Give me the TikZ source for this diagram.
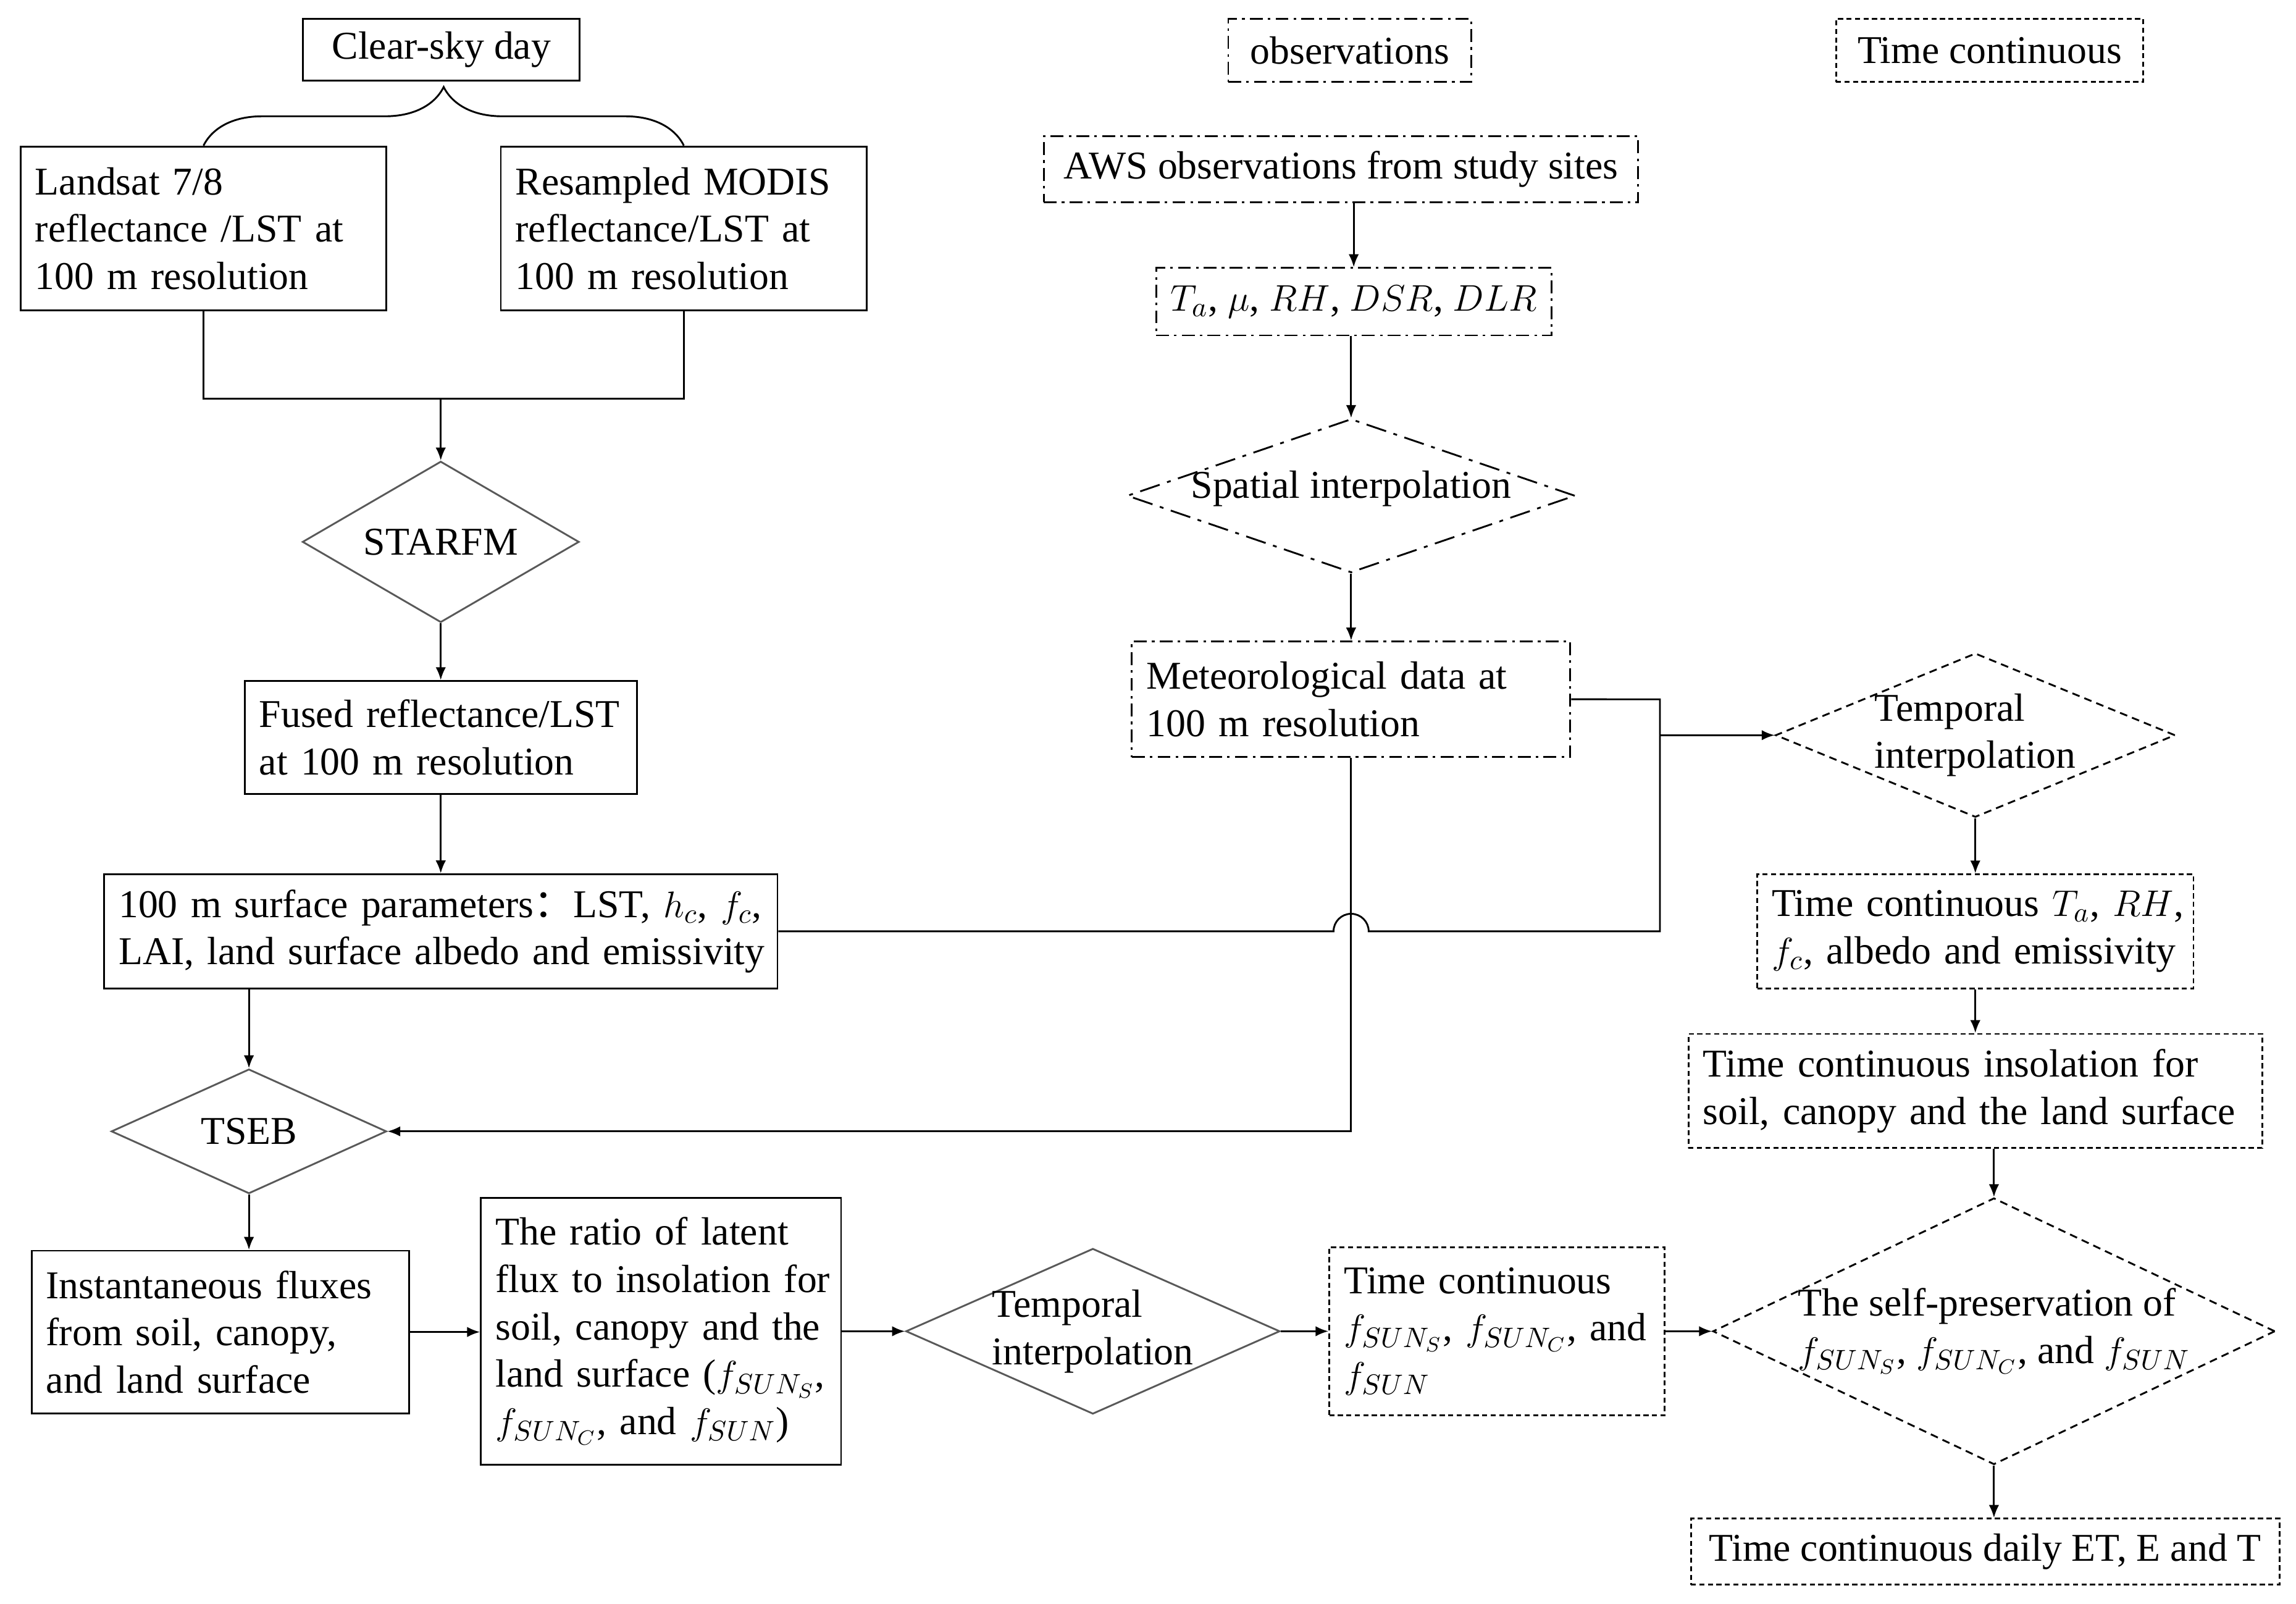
\documentclass[tikz,border=0pt]{standalone}
\usepackage{fontspec}
\setmainfont{Liberation Serif}
\newfontfamily\cjk{Noto Sans CJK SC}
\usetikzlibrary{shapes.geometric,arrows.meta,decorations.pathreplacing}

\begin{document}
\begin{tikzpicture}[x=0.02cm, y=-0.02cm, line width=0.7pt,
        font=\fontsize{15.3}{18.4}\selectfont, >={Latex[length=5pt,width=4pt]},
        obsline/.style={dash pattern=on 5pt off 2pt on 1pt off 2pt},
        tcline/.style={dash pattern=on 2pt off 1.3pt},
        solidbox/.style={draw, rectangle, align=left, inner xsep=0.2cm, inner ysep=0pt},
        obsbox/.style={solidbox, obsline},
        tcbox/.style={solidbox, tcline},
        decision/.style={draw=black!65, diamond, inner sep=0pt},
        obsdecision/.style={decision, draw=black, dash pattern=on 8pt off 3pt on 1.5pt off 3pt},
        tcdecision/.style={decision, draw=black, dash pattern=on 3pt off 2pt}]
        \useasboundingbox (0,0) rectangle (1568,1095);

        \node (clear) [solidbox, minimum width=3.78cm, minimum height=0.84cm] at (301.5,34) {Clear-sky day};
        \node (landsat) [solidbox, text width=4.6cm, minimum height=2.24cm] at (139,156) {Landsat 7/8\\reflectance /LST at\\100 m resolution};
        \node (resamp) [solidbox, text width=4.6cm, minimum height=2.24cm] at (467,156) {Resampled MODIS\\reflectance/LST at\\100 m resolution};
        \node (starfm) [decision, minimum width=3.78cm, minimum height=2.2cm, label=center:STARFM] at (301,370) {};
        \node (fused) [solidbox, below of=starfm, node distance=2.67cm, text width=4.96cm, minimum height=1.54cm] {Fused reflectance/LST\\at 100 m resolution};
        \node (params) [solidbox, below of=fused, node distance=2.65cm, text width=8.8cm, minimum height=1.56cm] {\mbox{100 m surface parameters{\cjk ：}LST, $h_c$, $f_c$,}\\\mbox{LAI, land surface albedo and emissivity}};
        \node (tseb) [decision, minimum width=3.76cm, minimum height=1.7cm, label=center:TSEB] at (170,772.5) {};
        \node (inst) [solidbox, text width=4.76cm, minimum height=2.22cm] at (150.5,909.5) {Instantaneous fluxes\\from soil, canopy,\\and land surface};
        \node (ratio) [solidbox, text width=4.52cm, minimum height=3.64cm] at (451.4,909) {The ratio of latent\\\mbox{flux to insolation for}\\\mbox{soil, canopy and the}\\\mbox{land surface ($f_{SUN_S}$,}\\$f_{SUN_C}$, and $f_{SUN}$)};
        \node (temp2) [decision, right of=ratio, node distance=5.9cm, minimum width=5.11cm, minimum height=2.26cm, label={[align=left]center:Temporal\\interpolation}] {};
        \node (tcf) [tcbox, right of=temp2, node distance=5.52cm, text width=4.18cm, minimum height=2.3cm] {Time continuous\\\mbox{$f_{SUN_S}$, $f_{SUN_C}$, and}\\$f_{SUN}$};
        \node (selfp) [tcdecision, right of=tcf, node distance=6.79cm, minimum width=7.68cm, minimum height=3.64cm, label={[align=left]center:The self-preservation of\\$f_{SUN_S}$, $f_{SUN_C}$, and $f_{SUN}$}] {};
        \node (final) [tcbox, minimum width=8.04cm, minimum height=0.9cm] at (1355.7,1059.5) {Time continuous daily ET, E and T};

        \node (obsleg) [obsbox, minimum width=3.32cm, minimum height=0.86cm] at (921.8,34.5) {observations};
        \node (tcleg) [tcbox, minimum width=4.2cm, minimum height=0.86cm] at (1358.8,34.5) {Time continuous};
        \node (aws) [obsbox, minimum width=8.12cm, minimum height=0.9cm] at (915.8,115.5) {AWS observations from study sites};
        \node (vars) [obsbox, minimum width=5.38cm, minimum height=0.92cm] at (924.5,206) {$T_a$, $\mu$, $RH$, $DSR$, $DLR$};
        \node (spatial) [obsdecision, minimum width=6.12cm, minimum height=2.1cm, label={[yshift=0.1cm]center:Spatial interpolation}] at (922.7,338.5) {};
        \node (met) [obsbox, below of=spatial, node distance=2.78cm, text width=5.59cm, minimum height=1.58cm] {Meteorological data at\\100 m resolution};
        \node (temp1) [tcdecision, minimum width=5.46cm, minimum height=2.24cm, label={[align=left]center:Temporal\\interpolation}] at (1349,502) {};
        \node (tca) [tcbox, below of=temp1, node distance=2.68cm, text width=5.56cm, minimum height=1.56cm] {\mbox{Time continuous $T_a$, $RH$,}\\\mbox{$f_c$, albedo and emissivity}};
        \node (ins) [tcbox, below of=tca, node distance=2.18cm, text width=7.44cm, minimum height=1.56cm] {\mbox{Time continuous insolation for}\\\mbox{soil, canopy and the land surface}};
        \coordinate (bus) at (1133.6,477.5);

        \draw[decorate, decoration={brace, amplitude=0.8cm}] (landsat.north) -- (resamp.north);
        \path (starfm.north) ++(0,-42) coordinate (join);
        \draw (landsat.south) |- (join) -| (resamp.south);
        \draw[->] (join) -- (starfm.north);
        \draw[->] (starfm.south) -- (fused.north);
        \draw[->] (fused.south) -- (params.north);
        \draw[->] (params.south -| tseb.north) -- (tseb.north);
        \draw[->] (tseb.south) -- (tseb.south |- inst.north);
        \draw[->] (inst.east) -- (inst.east -| ratio.west);
        \draw[->] (ratio.east) -- (temp2.west);
        \draw[->] (temp2.east) -- (tcf.west);
        \draw[->] (tcf.east) -- (selfp.west);
        \draw[->] (selfp.south) -- (selfp.south |- final.north);
        \draw[->] (aws.south -| vars.north) -- (vars.north);
        \draw[->] (vars.south -| spatial.north) -- (spatial.north);
        \draw[->] (spatial.south) -- (met.north);
        \draw (met.east) -- (bus) -- (bus |- params.east) -- ([xshift=0.24cm]met.south |- params.east) arc[start angle=0, end angle=180, radius=0.24cm] -- (params.east);
        \draw[->] (bus |- temp1.west) -- (temp1.west);
        \draw[->] (met.south) |- (tseb.east);
        \draw[->] (temp1.south) -- (temp1.south |- tca.north);
        \draw[->] (tca.south) -- (tca.south |- ins.north);
        \draw[->] (selfp.north |- ins.south) -- (selfp.north);
    \end{tikzpicture}
\end{document}
